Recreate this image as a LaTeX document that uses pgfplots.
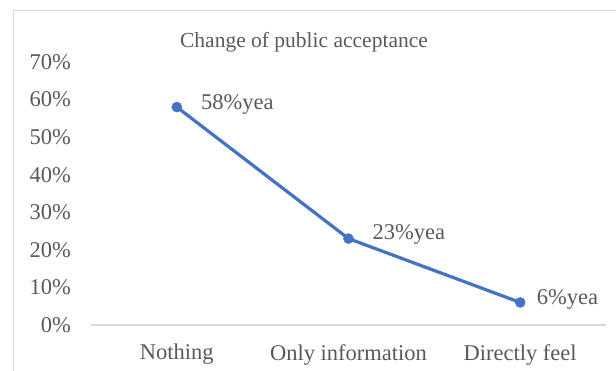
\documentclass[border=0pt]{standalone}
\usepackage{pgfplots}
\pgfplotsset{compat=1.18}
\usepackage{fontspec}
\setmainfont{Liberation Serif}
\definecolor{lineblue}{HTML}{4472C4}
\definecolor{txtgray}{HTML}{595959}
\definecolor{framegray}{HTML}{D9D9D9}
\begin{document}
\fontsize{22.5bp}{27bp}\selectfont
\begin{tikzpicture}
\useasboundingbox (0,0) rectangle (616bp,371bp);
\draw[framegray, line width=1bp] (13bp,0) -- (13bp,360bp) -- (616bp,360bp);
\node[anchor=base, text=txtgray, font=\fontsize{21.5bp}{25bp}\selectfont] at (304bp,323bp) {Change of public acceptance};
\begin{axis}[
  at={(91bp,46bp)}, anchor=south west,
  scale only axis, width=515bp, height=263bp,
  xmin=-0.5, xmax=2.5, ymin=0, ymax=70,
  axis x line*=bottom, axis y line*=left,
  x axis line style={framegray, line width=1.2bp},
  y axis line style={draw=none},
  major tick length=0pt,
  tick style={draw=none},
  xtick={0,1,2},
  xticklabels={Nothing,Only information,Directly feel},
  ytick={0,10,20,30,40,50,60,70},
  yticklabels={0\%,10\%,20\%,30\%,40\%,50\%,60\%,70\%},
  xticklabel style={anchor=north, inner sep=0pt, yshift=-19bp, text=txtgray},
  yticklabel style={anchor=east, inner sep=0pt, xshift=-20bp, text=txtgray},
  clip=false,
]
\addplot[lineblue, line width=3.2bp, mark=*, mark size=5bp, mark options={fill=lineblue, draw=lineblue, solid, line width=0.5bp}] coordinates {(0,58) (1,23) (2,6)};
\node[anchor=base west, text=txtgray, xshift=16.5bp, yshift=-2bp] at (axis cs:0,58) {58\%yea};
\node[anchor=base west, text=txtgray, xshift=16.5bp, yshift=-1bp] at (axis cs:1,23) {23\%yea};
\node[anchor=base west, text=txtgray, xshift=9bp, yshift=-2bp] at (axis cs:2,6) {6\%yea};
\end{axis}
\end{tikzpicture}
\end{document}
